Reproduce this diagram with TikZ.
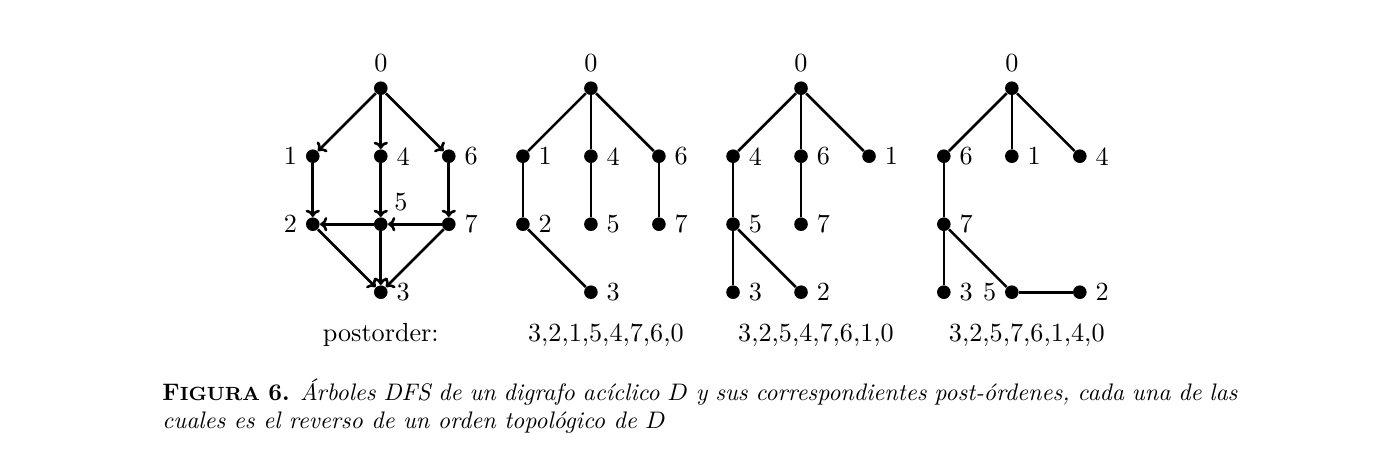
\documentclass[tikz,border=0pt]{standalone}
\usepackage{amsmath}
\usepackage{tikz}
\usetikzlibrary{positioning, arrows, arrows.meta}

\tikzset{
  vtx/.style={circle, fill, inner sep=0pt, minimum size=0.2cm},
  arc/.style={-{To[length=3pt, width=6pt]}, line width=1.1pt},
  tedge/.style={line width=1.1pt},
  order/.style={anchor=base},
  every label/.style={font=\fontsize{10.95}{13.6}\selectfont}
}

\begin{document}
\begin{tikzpicture}[font=\fontsize{10.95}{13.6}\selectfont]
\useasboundingbox (0,0) rectangle (20.412,6.897);

% The digraph D
\begin{scope}[shift={(5.6,2.6)}]
\node[vtx, label=above:0] (a0) at (0,3) {};
\node[vtx, label=left:1] (a1) at (-1,2) {};
\node[vtx, label=right:4] (a4) at (0,2) {};
\node[vtx, label=right:6] (a6) at (1,2) {};
\node[vtx, label=left:2] (a2) at (-1,1) {};
\node[vtx, label=above right:5] (a5) at (0,1) {};
\node[vtx, label=right:7] (a7) at (1,1) {};
\node[vtx, label=right:3] (a3) at (0,0) {};
\foreach \u/\v in {a0/a1,a0/a4,a0/a6,a1/a2,a4/a5,a6/a7,a5/a2,a7/a5,a2/a3,a5/a3,a7/a3}{
  \draw[arc] (\u) -- (\v);
}
\node[order] (posta) at (0,-0.72) {postorder:};
\end{scope}

% First DFS tree
\begin{scope}[shift={(8.69,2.6)}]
\node[vtx, label=above:0] (b0) at (0,3) {};
\node[vtx, label=right:1] (b1) at (-1,2) {};
\node[vtx, label=right:4] (b4) at (0,2) {};
\node[vtx, label=right:6] (b6) at (1,2) {};
\node[vtx, label=right:2] (b2) at (-1,1) {};
\node[vtx, label=right:5] (b5) at (0,1) {};
\node[vtx, label=right:7] (b7) at (1,1) {};
\node[vtx, label=right:3] (b3) at (0,0) {};
\foreach \u/\v in {b0/b1,b0/b4,b0/b6,b1/b2,b2/b3,b4/b5,b6/b7}{
  \draw[tedge] (\u) -- (\v);
}
\node[order] (postb) at (0.22,-0.72) {3,2,1,5,4,7,6,0};
\end{scope}

% Second DFS tree
\begin{scope}[shift={(11.78,2.6)}]
\node[vtx, label=above:0] (c0) at (0,3) {};
\node[vtx, label=right:4] (c4) at (-1,2) {};
\node[vtx, label=right:6] (c6) at (0,2) {};
\node[vtx, label=right:1] (c1) at (1,2) {};
\node[vtx, label=right:5] (c5) at (-1,1) {};
\node[vtx, label=right:7] (c7) at (0,1) {};
\node[vtx, label=right:3] (c3) at (-1,0) {};
\node[vtx, label=right:2] (c2) at (0,0) {};
\foreach \u/\v in {c0/c4,c0/c6,c0/c1,c4/c5,c5/c3,c5/c2,c6/c7}{
  \draw[tedge] (\u) -- (\v);
}
\node[order] (postc) at (0.22,-0.72) {3,2,5,4,7,6,1,0};
\end{scope}

% Third DFS tree
\begin{scope}[shift={(14.88,2.6)}]
\node[vtx, label=above:0] (d0) at (0,3) {};
\node[vtx, label=right:6] (d6) at (-1,2) {};
\node[vtx, label=right:1] (d1) at (0,2) {};
\node[vtx, label=right:4] (d4) at (1,2) {};
\node[vtx, label=right:7] (d7) at (-1,1) {};
\node[vtx, label=right:3] (d3) at (-1,0) {};
\node[vtx, label=left:5] (d5) at (0,0) {};
\node[vtx, label=right:2] (d2) at (1,0) {};
\foreach \u/\v in {d0/d6,d0/d1,d0/d4,d6/d7,d7/d3,d7/d5,d5/d2}{
  \draw[tedge] (\u) -- (\v);
}
\node[order] (postd) at (0.22,-0.72) {3,2,5,7,6,1,4,0};
\end{scope}

% Caption
\node[anchor=north west, inner sep=0pt, text width=15.81cm, align=justify, font=\normalsize] (cap) at (2.382,1.34)
  {\textbf{F{\footnotesize IGURA} 6.} \textit{Árboles DFS de un digrafo acíclico $D$ y sus correspondientes post-órdenes, cada una de las\linebreak cuales es el reverso de un orden topológico de $D$}};
\end{tikzpicture}
\end{document}
